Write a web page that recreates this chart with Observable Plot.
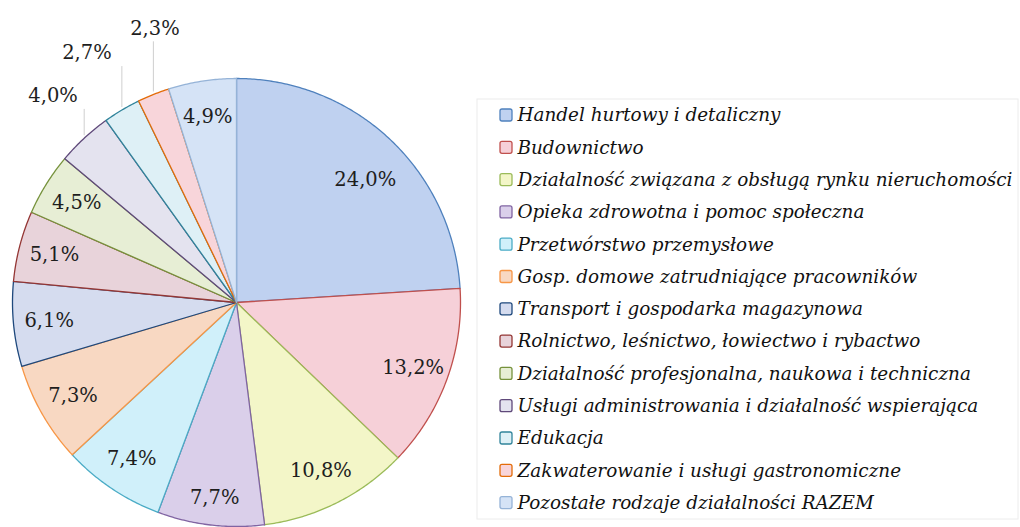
<!DOCTYPE html>
<html>
<head>
<meta charset="utf-8">
<script src="https://cdn.jsdelivr.net/npm/d3@7"></script>
<script src="https://cdn.jsdelivr.net/npm/@observablehq/plot@0.6"></script>
<style>
  html, body { margin: 0; padding: 0; background: #fff; }
  #chart { width: 1020px; height: 527px; }
</style>
</head>
<body>
<div id="chart"></div>
<script>
// ---- data ----
const categories = [
  "Handel hurtowy i detaliczny",
  "Budownictwo",
  "Działalność związana z obsługą rynku nieruchomości",
  "Opieka zdrowotna i pomoc społeczna",
  "Przetwórstwo przemysłowe",
  "Gosp. domowe zatrudniające pracowników",
  "Transport i gospodarka magazynowa",
  "Rolnictwo, leśnictwo, łowiectwo i rybactwo",
  "Działalność profesjonalna, naukowa i techniczna",
  "Usługi administrowania i działalność wspierająca",
  "Edukacja",
  "Zakwaterowanie i usługi gastronomiczne",
  "Pozostałe rodzaje działalności RAZEM"
];
const values = [24.0, 13.2, 10.8, 7.7, 7.4, 7.3, 6.1, 5.1, 4.5, 4.0, 2.7, 2.3, 4.9];
const outsideLabels = ["Usługi administrowania i działalność wspierająca", "Edukacja", "Zakwaterowanie i usługi gastronomiczne"];

// ---- styles ----
const fillColors = ["#bfd1f0", "#f6d0d8", "#f3f6c8", "#dacfea", "#d0f0fa", "#f8d8c2", "#d5dcef", "#e8d3da", "#e7eed5", "#e4e3ef", "#def0f6", "#f8d5da", "#d5e3f6"];
const strokeColors = ["#4f81bd", "#c0504d", "#9bbb59", "#8064a2", "#4bacc6", "#f79646", "#1f497d", "#943634", "#76923c", "#5f497a", "#31849b", "#e36c09", "#95b3d7"];

// ---- layout ----
const W = 1020, H = 527;
const cx = 236, cy = 302, R = 224;
const labelFont = "DejaVu Serif";
const legendX = 500, legendY0 = 115, legendStep = 32.3;
// manual label nudges (pixels), like hand-placed labels in the original
const labelNudge = {
  "Handel hurtowy i detaliczny": [0, 14],
  "Opieka zdrowotna i pomoc społeczna": [0, 8],
  "Usługi administrowania i działalność wspierająca": [10, 2],
  "Edukacja": [-4, -5],
  "Zakwaterowanie i usługi gastronomiczne": [24, -10]
};

const pie = d3.pie().sort(null).value(d => d.value).startAngle(0).endAngle(2 * Math.PI);
const rows = categories.map((c, i) => ({cat: c, value: values[i], fill: fillColors[i], stroke: strokeColors[i], i}));
const arcs = pie(rows);

const pt = (a, r) => [cx + r * Math.sin(a), cy - r * Math.cos(a)];

// polygon points for each slice
const slicePts = [];
for (const a of arcs) {
  const n = Math.max(2, Math.ceil((a.endAngle - a.startAngle) / (Math.PI / 360)));
  const base = {cat: a.data.cat, fill: a.data.fill, stroke: a.data.stroke};
  slicePts.push({x: cx, y: cy, ...base});
  for (let k = 0; k <= n; k++) {
    const ang = a.startAngle + (a.endAngle - a.startAngle) * k / n;
    const [x, y] = pt(ang, R);
    slicePts.push({x, y, ...base});
  }
  slicePts.push({x: cx, y: cy, ...base});
}

const fmt = v => v.toFixed(1).replace(".", ",") + "%";
const labels = arcs.map(a => {
  const mid = (a.startAngle + a.endAngle) / 2;
  const outside = outsideLabels.includes(a.data.cat);
  let [x, y] = pt(mid, outside ? R * 1.27 : R * 0.84);
  const nd = labelNudge[a.data.cat] || [0, 0];
  x += nd[0]; y += nd[1];
  const [ex, ey] = pt(mid, R);
  return {x, y, ex, ey, outside, text: fmt(a.data.value)};
});
const leaders = labels.filter(d => d.outside);

const legend = rows.map((d, i) => ({...d, y: legendY0 + i * legendStep}));

const chart = Plot.plot({
  width: W, height: H,
  margin: 0,
  x: {domain: [0, W], range: [0, W], axis: null},
  y: {domain: [0, H], range: [0, H], axis: null},
  color: {type: "identity"},
  style: {background: "#fff"},
  marks: [
    Plot.line(slicePts, {x: "x", y: "y", z: "cat", fill: "fill", stroke: "stroke", strokeWidth: 1.3, strokeLinejoin: "round"}),
    Plot.link(leaders, {x1: "ex", x2: "ex", y1: d => d.y + 13, y2: d => d.ey - 3, stroke: "#cfcfcf", strokeWidth: 1}),
    Plot.text(labels, {x: "x", y: "y", text: "text", fontSize: 19.5, fontFamily: labelFont, fill: "#1e1e1e"}),
    // legend frame
    Plot.rect([0], {x1: () => 477, x2: () => 1018, y1: () => 99, y2: () => 519, fill: "none", stroke: "#ececec", strokeWidth: 1}),
    Plot.rect(legend, {x1: () => legendX, x2: () => legendX + 12, y1: d => d.y - 6, y2: d => d.y + 6, fill: "fill", stroke: "stroke", strokeWidth: 1.3, rx: 2}),
    Plot.text(legend, {x: () => legendX + 17, y: "y", text: "cat", textAnchor: "start", fontSize: 18.4, fontStyle: "italic", fontFamily: labelFont, fill: "#111"})
  ]
});
document.getElementById("chart").appendChild(chart);
</script>
</body>
</html>
